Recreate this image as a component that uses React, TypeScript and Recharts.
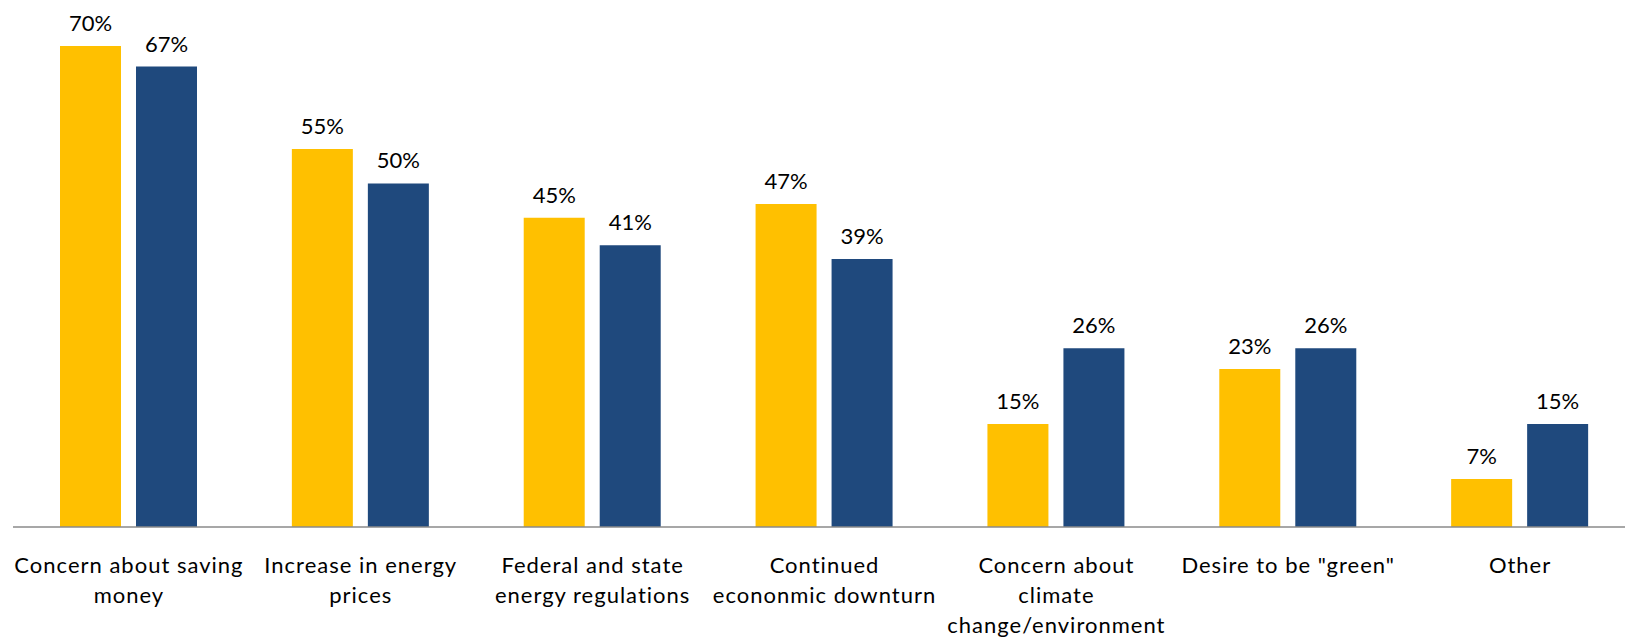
import React from "react";
import { BarChart, Bar, XAxis, YAxis, LabelList } from "recharts";

const categories = [
  "Concern about saving money",
  "Increase in energy prices",
  "Federal and state energy regulations",
  "Continued econonmic downturn",
  "Concern about climate change/environment",
  'Desire to be "green"',
  "Other",
];

const tickLines: string[][] = [
  ["Concern about saving", "money"],
  ["Increase in energy", "prices"],
  ["Federal and state", "energy regulations"],
  ["Continued", "econonmic downturn"],
  ["Concern about", "climate", "change/environment"],
  ['Desire to be "green"'],
  ["Other"],
];

const seriesYellow = [70, 55, 45, 47, 15, 23, 7];
const seriesBlue = [67, 50, 41, 39, 26, 26, 15];

const data = categories.map((c, i) => ({
  category: c,
  yellow: seriesYellow[i],
  blue: seriesBlue[i],
}));

const FONT = "Lato, 'Liberation Sans', sans-serif";

const CategoryTick = (props: any) => {
  const { x, y, payload } = props;
  const idx = categories.indexOf(payload.value);
  const lines = idx >= 0 ? tickLines[idx] : [String(payload.value)];
  return (
    <text
      x={x}
      y={y}
      textAnchor="middle"
      fill="#000"
      fontSize={22}
      fontFamily={FONT}
      letterSpacing={1}
    >
      {lines.map((l, i) => (
        <tspan key={i} x={x} dy={i === 0 ? 46 : 30}>
          {l}
        </tspan>
      ))}
    </text>
  );
};

const pct = (v: any) => `${v}%`;

export default function App() {
  return (
    <div
      style={{
        position: "absolute",
        left: 0,
        top: 0,
        width: 1625,
        height: 642,
        overflow: "hidden",
        background: "#fff",
      }}
    >
      <BarChart
        width={1645}
        height={642}
        data={data}
        margin={{ top: 46, right: 9, bottom: 0, left: 13 }}
        barSize={61}
        barGap={15}
      >
        <XAxis
          dataKey="category"
          axisLine={{ stroke: "#8a8a8a", strokeWidth: 1.5 }}
          tickLine={false}
          tickSize={0}
          tickMargin={0}
          height={115}
          interval={0}
          tick={<CategoryTick />}
        />
        <YAxis hide domain={[0, 70]} />
        <Bar dataKey="yellow" fill="#FFC000" isAnimationActive={false}>
          <LabelList
            dataKey="yellow"
            position="top"
            offset={15}
            formatter={pct}
            fill="#000"
            fontSize={22}
            fontFamily={FONT}
          />
        </Bar>
        <Bar dataKey="blue" fill="#1F497D" isAnimationActive={false}>
          <LabelList
            dataKey="blue"
            position="top"
            offset={15}
            formatter={pct}
            fill="#000"
            fontSize={22}
            fontFamily={FONT}
          />
        </Bar>
      </BarChart>
    </div>
  );
}
